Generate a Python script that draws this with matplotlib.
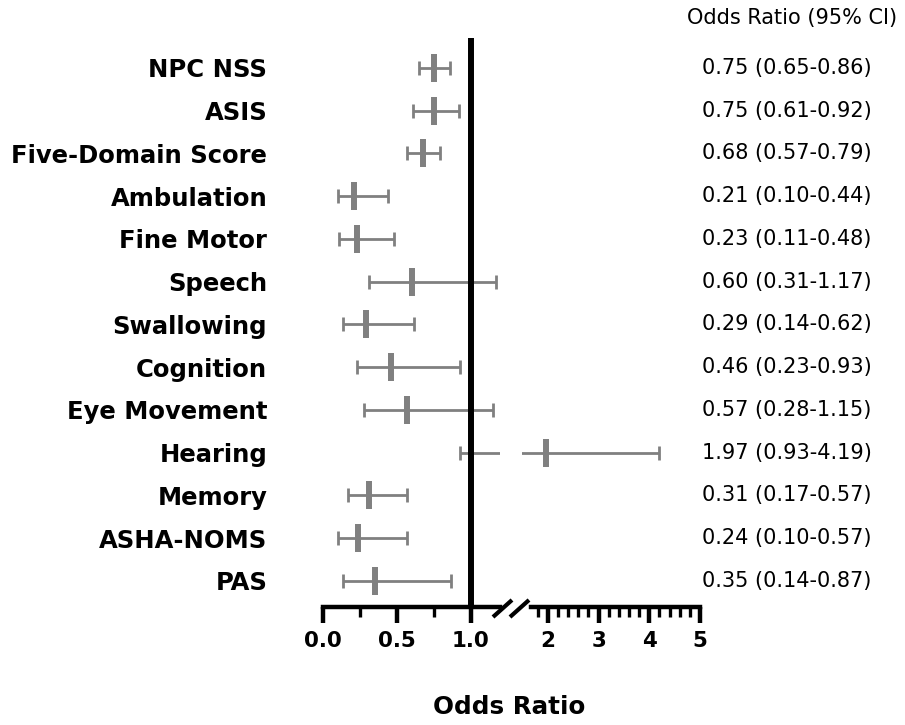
import numpy as np
import matplotlib
matplotlib.use("Agg")
import matplotlib.pyplot as plt
from matplotlib.lines import Line2D
from matplotlib.ticker import FixedLocator, MultipleLocator
from matplotlib.transforms import blended_transform_factory

# ---------------- data ----------------
categories = ["NPC NSS", "ASIS", "Five-Domain Score", "Ambulation", "Fine Motor",
              "Speech", "Swallowing", "Cognition", "Eye Movement", "Hearing",
              "Memory", "ASHA-NOMS", "PAS"]
odds = np.array([0.75, 0.75, 0.68, 0.21, 0.23, 0.60, 0.29, 0.46, 0.57, 1.97, 0.31, 0.24, 0.35])
ci_low = np.array([0.65, 0.61, 0.57, 0.10, 0.11, 0.31, 0.14, 0.23, 0.28, 0.93, 0.17, 0.10, 0.14])
ci_high = np.array([0.86, 0.92, 0.79, 0.44, 0.48, 1.17, 0.62, 0.93, 1.15, 4.19, 0.57, 0.57, 0.87])
left_ticks = [0.0, 0.5, 1.0]
left_tick_labels = ["0.0", "0.5", "1.0"]
right_ticks = [2, 3, 4, 5]
right_tick_labels = ["2", "3", "4", "5"]

W, H = 905, 725
fig = plt.figure(figsize=(W / 100, H / 100), dpi=100)

def fx(px):
    return px / W

def fy(py):
    return 1 - py / H

gray = "#808080"
ypos = np.arange(len(categories))

ax_bottom_px, ax_top_px = 607, 38
axL = fig.add_axes([fx(322.7), fy(ax_bottom_px), fx(500.3) - fx(322.7), (ax_bottom_px - ax_top_px) / H])
axR = fig.add_axes([fx(521.5), fy(ax_bottom_px), fx(700) - fx(521.5), (ax_bottom_px - ax_top_px) / H])

axL.set_xlim(0, 1.2)
axR.set_xlim(1.48, 5.0)

for ax in (axL, axR):
    ax.set_ylim(12.61, -0.70)
    ax.errorbar(odds, ypos, xerr=[odds - ci_low, ci_high - odds], fmt="none",
                ecolor=gray, elinewidth=2.0, capsize=5, capthick=2.0, zorder=2)
    ax.plot(odds, ypos, linestyle="none", marker="|", ms=19.5, mew=4.3, color=gray, zorder=2.5)
    for s in ("top", "left", "right"):
        ax.spines[s].set_visible(False)
    ax.spines["bottom"].set_linewidth(3.2)
    ax.spines["bottom"].set_color("black")
    ax.tick_params(axis="x", which="major", length=11.5, width=3.2, color="black",
                   pad=6, labelsize=15.4)
    ax.tick_params(axis="x", which="minor", length=7, width=2.4, color="black")
    ax.patch.set_visible(False)

axL.axvline(1.0, color="black", lw=4.3, zorder=3)

axL.xaxis.set_major_locator(FixedLocator(left_ticks))
axL.set_xticklabels(left_tick_labels, fontweight="bold", family="DejaVu Sans")
axL.xaxis.set_minor_locator(MultipleLocator(0.25))

axR.xaxis.set_major_locator(FixedLocator(right_ticks))
axR.set_xticklabels(right_tick_labels, fontweight="bold", family="DejaVu Sans")
axR.xaxis.set_minor_locator(FixedLocator(np.arange(1.8, 5.0, 0.2)))
axR.spines["bottom"].set_bounds(1.67, 5.0)

axL.set_yticks(ypos)
axL.set_yticklabels(categories, fontweight="bold", fontsize=17.5, family="DejaVu Sans")
axL.tick_params(axis="y", length=0, pad=40)
axR.set_yticks([])

# axis break marks
for (x0, y0, x1, y1) in [(493, 617, 512, 600), (510, 617, 529, 600)]:
    fig.add_artist(Line2D([fx(x0), fx(x1)], [fy(y0), fy(y1)], transform=fig.transFigure,
                          color="black", lw=3.0, solid_capstyle="butt"))

# x label
fig.text(fx(509), fy(707), "Odds Ratio", ha="center", va="center",
         fontsize=17.7, fontweight="bold", family="DejaVu Sans")

# right-hand text column
fig.text(fx(792), fy(18), "Odds Ratio (95% CI)", ha="center", va="center",
         fontsize=15, family="DejaVu Sans")
trans = blended_transform_factory(fig.transFigure, axL.transData)
for i in range(len(categories)):
    label = f"{odds[i]:.2f} ({ci_low[i]:.2f}-{ci_high[i]:.2f})"
    axL.text(fx(787), ypos[i], label, transform=trans, ha="center", va="center",
             fontsize=15, family="DejaVu Sans", clip_on=False)

fig.savefig("out.png", dpi=100)
